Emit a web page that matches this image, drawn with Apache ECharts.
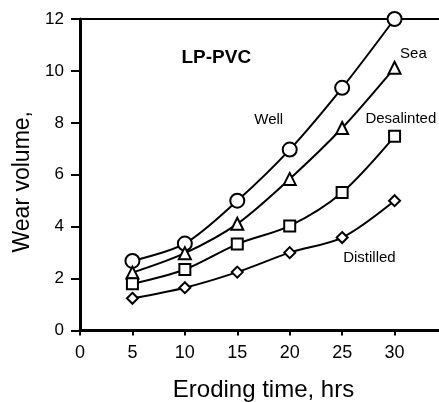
<!DOCTYPE html>
<html lang="en">
<head>
    <meta charset="UTF-8">
    <title>Wear volume</title>
    <script src="https://cdn.jsdelivr.net/npm/echarts@6/dist/echarts.min.js"></script>
    <style>
        html,body{margin:0;padding:0;background:#fff}
    </style>
</head>
<body>
<div id="main" style="width: 439px;height: 402px"></div>
<script>
    let hours=[5,10,15,20,25,30]
    let well=[2.68,3.35,5.0,6.97,9.35,12.0]
    let sea=[2.23,2.98,4.11,5.84,7.8,10.12]
    let desalinted=[1.8,2.35,3.33,4.03,5.32,7.48]
    let distilled=[1.24,1.65,2.25,3.0,3.58,5.0]
    // series labels written inside the plot, in data units
    let labelNames=['LP-PVC','Well','Sea','Desalinted','Distilled']
    let labelX=[13.0,18.0,31.8,30.6,27.6]
    let labelY=[10.5,8.1,10.65,8.17,2.78]

    function pairs(ys){
        return hours.map(function(h,i){return [h,ys[i]]})
    }
    function line(name,ys,symbol,size){
        return {
            name:name,
            type:'line',
            smooth:0.3,
            data:pairs(ys),
            symbol:symbol,
            symbolSize:size,
            showAllSymbol:true,
            lineStyle:{color:'#000',width:2},
            itemStyle:{color:'#fff',borderColor:'#000',borderWidth:2},
            z:3
        }
    }

    let mycharts=echarts.init(document.getElementById("main"))
    mycharts.setOption({
        animation:false,
        grid:{left:80,top:19,width:367,height:311.5,outerBoundsMode:'none',containLabel:false},
        xAxis:[{
            type:'value',
            min:0,max:35,interval:5,
            name:'Eroding time, hrs',
            nameLocation:'middle',
            nameGap:48,
            nameTextStyle:{fontFamily:'Liberation Sans',fontSize:24,color:'#000'},
            axisLine:{show:true,lineStyle:{color:'#000',width:3}},
            axisTick:{show:true,length:5,lineStyle:{color:'#000',width:2}},
            axisLabel:{fontFamily:'Liberation Sans',fontSize:18,color:'#000',margin:14,
                formatter:function(v){return v>30?'':v}},
            splitLine:{show:false}
        },{
            type:'value',
            position:'top',
            min:0,max:35,
            axisLine:{show:true,lineStyle:{color:'#000',width:2}},
            axisTick:{show:false},
            axisLabel:{show:false},
            splitLine:{show:false}
        }],
        yAxis:{
            type:'value',
            min:0,max:12,interval:2,
            name:'Wear volume,',
            nameLocation:'middle',
            nameGap:38,
            nameTextStyle:{fontFamily:'Liberation Sans',fontSize:23,color:'#000',padding:[0,14,0,0]},
            axisLine:{show:true,lineStyle:{color:'#000',width:3}},
            axisTick:{show:true,length:9,lineStyle:{color:'#000',width:2}},
            axisLabel:{fontFamily:'Liberation Sans',fontSize:17,color:'#000',margin:16},
            splitLine:{show:false}
        },
        series:[
            line('Well',well,'circle',14),
            line('Sea',sea,'triangle',12),
            line('Desalinted',desalinted,'rect',11),
            line('Distilled',distilled,'diamond',[11,11])
        ]
    })

    let texts=[]
    for (let i=0;i<labelNames.length;i++){
        let p=mycharts.convertToPixel({xAxisIndex:0,yAxisIndex:0},[labelX[i],labelY[i]])
        texts.push({
            type:'text',
            x:p[0],y:p[1],
            style:{
                text:labelNames[i],
                fontFamily:'Liberation Sans',
                fontSize:i===0?19:15,
                fontWeight:i===0?'bold':'normal',
                fill:'#000',
                align:'center',
                verticalAlign:'middle'
            },
            z:10
        })
    }
    mycharts.setOption({graphic:texts})
</script>
</body>
</html>
